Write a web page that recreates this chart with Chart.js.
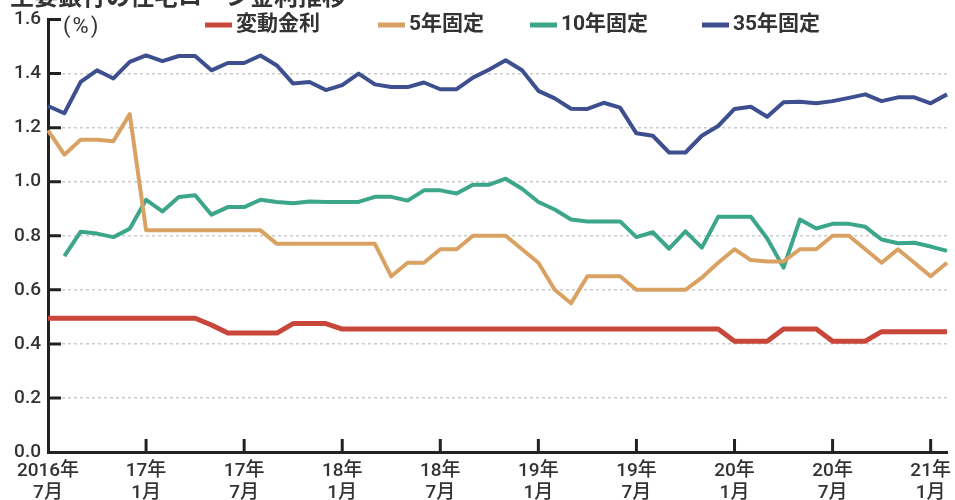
<!DOCTYPE html>
<html>
<head>
<meta charset="utf-8">
<script src="https://cdn.jsdelivr.net/npm/chart.js@4"></script>
<style>
  body { margin: 0; background: #fff; }
  #rateChart { display: block; }
</style>
</head>
<body>
<canvas id="rateChart" width="955" height="500"></canvas>
<script>
const months = [
    "2016/07", "2016/08", "2016/09", "2016/10", "2016/11", "2016/12",
    "2017/01", "2017/02", "2017/03", "2017/04", "2017/05", "2017/06",
    "2017/07", "2017/08", "2017/09", "2017/10", "2017/11", "2017/12",
    "2018/01", "2018/02", "2018/03", "2018/04", "2018/05", "2018/06",
    "2018/07", "2018/08", "2018/09", "2018/10", "2018/11", "2018/12",
    "2019/01", "2019/02", "2019/03", "2019/04", "2019/05", "2019/06",
    "2019/07", "2019/08", "2019/09", "2019/10", "2019/11", "2019/12",
    "2020/01", "2020/02", "2020/03", "2020/04", "2020/05", "2020/06",
    "2020/07", "2020/08", "2020/09", "2020/10", "2020/11", "2020/12",
    "2021/01", "2021/02"
];

const tickLabels = [
    ["2016年", "7月"], ["17年", "1月"], ["17年", "7月"], ["18年", "1月"], ["18年", "7月"],
    ["19年", "1月"], ["19年", "7月"], ["20年", "1月"], ["20年", "7月"], ["21年", "1月"]
];

const seriesNames = ["変動金利", "5年固定", "10年固定", "35年固定"];

const variableRate = [
    0.495, 0.495, 0.495, 0.495, 0.495, 0.495, 0.495, 0.495, 0.495, 0.495,
    0.47, 0.44, 0.44, 0.44, 0.44, 0.475, 0.475, 0.475,
    0.455, 0.455, 0.455, 0.455, 0.455, 0.455, 0.455, 0.455, 0.455, 0.455, 0.455, 0.455,
    0.455, 0.455, 0.455, 0.455, 0.455, 0.455, 0.455, 0.455, 0.455, 0.455, 0.455, 0.455,
    0.41, 0.41, 0.41, 0.455, 0.455, 0.455, 0.41, 0.41, 0.41,
    0.445, 0.445, 0.445, 0.445, 0.445
];

const fixed5 = [
    1.19, 1.10, 1.155, 1.155, 1.15, 1.25,
    0.82, 0.82, 0.82, 0.82, 0.82, 0.82, 0.82, 0.82,
    0.77, 0.77, 0.77, 0.77, 0.77, 0.77, 0.77,
    0.65, 0.70, 0.70, 0.75, 0.75, 0.80, 0.80, 0.80, 0.75, 0.70,
    0.60, 0.55, 0.65, 0.65, 0.65, 0.60, 0.60, 0.60, 0.60, 0.645,
    0.70, 0.75, 0.71, 0.705, 0.705, 0.75, 0.75, 0.80, 0.80, 0.75,
    0.70, 0.75, 0.70, 0.65, 0.70
];

const fixed10 = [
    null, 0.725, 0.815, 0.808, 0.795, 0.826, 0.933, 0.89, 0.943, 0.95,
    0.878, 0.906, 0.906, 0.933, 0.925, 0.92, 0.927, 0.925, 0.925, 0.925,
    0.944, 0.944, 0.93, 0.968, 0.968, 0.956, 0.989, 0.989, 1.011, 0.974,
    0.925, 0.897, 0.86, 0.853, 0.853, 0.853, 0.795, 0.813, 0.752, 0.816,
    0.756, 0.87, 0.87, 0.87, 0.79, 0.682, 0.86, 0.827, 0.844, 0.844,
    0.833, 0.786, 0.772, 0.774, 0.76, 0.744
];

const fixed35 = [
    1.28, 1.253, 1.369, 1.412, 1.382, 1.443, 1.467, 1.446, 1.465, 1.465,
    1.412, 1.439, 1.439, 1.467, 1.43, 1.363, 1.369, 1.339, 1.357, 1.40,
    1.36, 1.35, 1.35, 1.367, 1.342, 1.342, 1.385, 1.415, 1.449, 1.412,
    1.336, 1.308, 1.27, 1.269, 1.292, 1.274, 1.179, 1.17, 1.108, 1.108,
    1.17, 1.206, 1.269, 1.277, 1.24, 1.294, 1.296, 1.29, 1.298, 1.31,
    1.323, 1.298, 1.312, 1.312, 1.29, 1.323
];

const colors = ["#c8463a", "#d9a263", "#3ba68a", "#3d4f8f"];
const lineWidths = [5, 4, 4, 4];
const FONT = "Roboto, 'Noto Sans CJK JP', sans-serif";

// legend, inner tick marks, "(%)" and the cut-off title
const decorations = {
    id: "decorations",
    afterDraw(chart) {
        const ctx = chart.ctx;
        const x = chart.scales.x;
        const y = chart.scales.y;
        ctx.save();

        ctx.strokeStyle = "#222";
        ctx.lineWidth = 3;
        ctx.beginPath();
        for (let i = 6; i < months.length; i += 6) {
            const px = x.getPixelForValue(i);
            ctx.moveTo(px, y.bottom);
            ctx.lineTo(px, y.bottom - 13);
        }
        for (let v = 0.2; v < 1.65; v += 0.2) {
            const py = y.getPixelForValue(v);
            ctx.moveTo(x.left, py);
            ctx.lineTo(x.left + 13, py);
        }
        ctx.stroke();

        ctx.fillStyle = "#333";
        ctx.font = "22px " + FONT;
        ctx.textBaseline = "middle";
        ctx.letterSpacing = "2px";
        ctx.fillText("(%)", 63, 27);
        ctx.letterSpacing = "0px";

        const legendX = [205, 378, 530, 702];
        ctx.font = "bold 21px " + FONT;
        seriesNames.forEach(function (name, i) {
            ctx.strokeStyle = colors[i];
            ctx.lineWidth = 5;
            ctx.beginPath();
            ctx.moveTo(legendX[i], 25);
            ctx.lineTo(legendX[i] + 27, 25);
            ctx.stroke();
            ctx.fillStyle = "#333";
            ctx.fillText(name, legendX[i] + 31, 25);
        });

        ctx.font = "bold 24px " + FONT;
        ctx.textBaseline = "alphabetic";
        ctx.fillStyle = "#333";
        ctx.fillText("主要銀行の住宅ローン金利推移", 10, 5);
        ctx.restore();
    }
};

const ctx = document.getElementById("rateChart").getContext("2d");

const rateChart = new Chart(ctx, {
    type: "line",
    data: {
        labels: months,
        datasets: [variableRate, fixed5, fixed10, fixed35].map(function (values, i) {
            return {
                label: seriesNames[i],
                data: values,
                borderColor: colors[i],
                backgroundColor: colors[i],
                borderWidth: lineWidths[i],
                pointRadius: 0,
                tension: 0,
                fill: false,
                borderJoinStyle: "round"
            };
        })
    },
    options: {
        responsive: false,
        animation: false,
        layout: { padding: { top: 19.5, right: 8, left: 0, bottom: 0 } },
        plugins: {
            legend: { display: false },
            tooltip: { enabled: false }
        },
        scales: {
            x: {
                offset: false,
                afterFit: function (scale) { scale.height = 48; },
                grid: { display: false, drawTicks: false },
                border: { display: true, color: "#222", width: 3 },
                ticks: {
                    autoSkip: false,
                    maxRotation: 0,
                    padding: 8,
                    color: "#333",
                    font: { family: FONT, size: 19, weight: 500, lineHeight: 1.15 },
                    callback: function (value, index) {
                        return index % 6 === 0 ? tickLabels[index / 6] : "";
                    }
                }
            },
            y: {
                min: 0,
                max: 1.6,
                afterFit: function (scale) { scale.width = 48; },
                grid: {
                    drawTicks: false,
                    color: function (c) {
                        return (c.tick.value === 0 || c.tick.value >= 1.6) ? "rgba(0,0,0,0)" : "#cccccc";
                    },
                    lineWidth: 1.5
                },
                border: { display: true, color: "#222", width: 3, dash: [3, 3], dashOffset: 0 },
                ticks: {
                    stepSize: 0.2,
                    padding: 7,
                    color: "#333",
                    font: { family: FONT, size: 19, weight: 500 },
                    callback: function (v) { return v.toFixed(1); }
                }
            }
        }
    },
    plugins: [decorations]
});
</script>
</body>
</html>
